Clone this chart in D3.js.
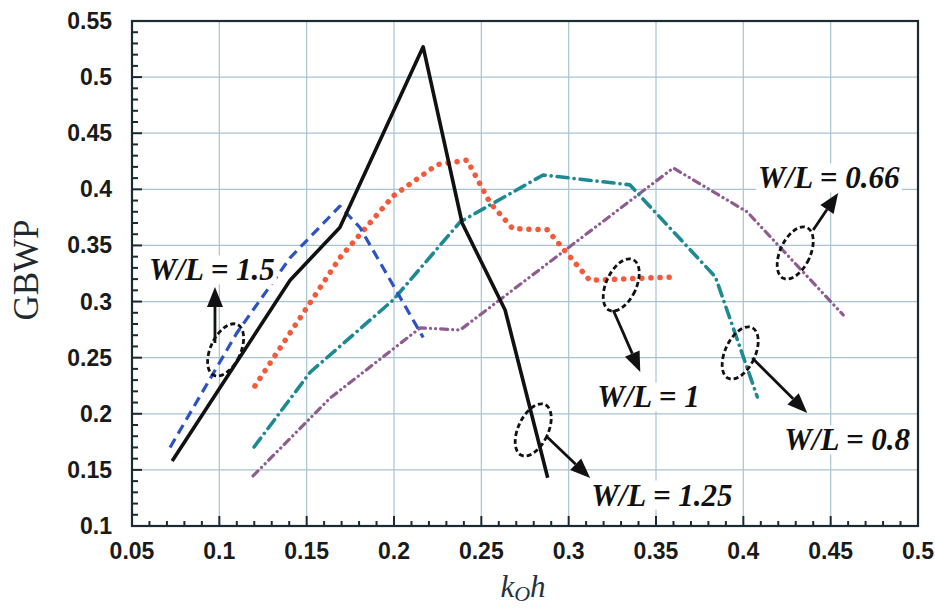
<!DOCTYPE html>
<html><head><meta charset="utf-8">
<script src="https://cdn.jsdelivr.net/npm/d3@7"></script>
<style>body{margin:0;background:#fff}svg{display:block}</style>
</head><body>
<script>
// ---- data ----
const xTicks = [0.05,0.1,0.15,0.2,0.25,0.3,0.35,0.4,0.45,0.5];
const xTickLabels = ["0.05","0.1","0.15","0.2","0.25","0.3","0.35","0.4","0.45","0.5"];
const yTicks = [0.1,0.15,0.2,0.25,0.3,0.35,0.4,0.45,0.5,0.55];
const yTickLabels = ["0.1","0.15","0.2","0.25","0.3","0.35","0.4","0.45","0.5","0.55"];

const xWL125 = [0.073, 0.1405, 0.169, 0.2167, 0.239, 0.2636, 0.288];
const yWL125 = [0.158, 0.319, 0.366, 0.527, 0.370, 0.2925, 0.143];
const xWL15 = [0.0718, 0.110, 0.1405, 0.169, 0.1805, 0.2167];
const yWL15 = [0.170, 0.272, 0.339, 0.385, 0.366, 0.268];
const xWL1 = [0.1204, 0.169, 0.1995, 0.2247, 0.2419, 0.255, 0.268, 0.2877, 0.312, 0.362];
const yWL1 = [0.2248, 0.339, 0.394, 0.422, 0.426, 0.388, 0.365, 0.364, 0.319, 0.322];
const xWL08 = [0.1199, 0.152, 0.1995, 0.2379, 0.2854, 0.335, 0.384, 0.408];
const yWL08 = [0.1704, 0.237, 0.3014, 0.371, 0.4128, 0.404, 0.322, 0.215];
const xWL066 = [0.1193, 0.1634, 0.215, 0.2379, 0.3599, 0.4022, 0.4572];
const yWL066 = [0.1446, 0.214, 0.2765, 0.2747, 0.419, 0.3799, 0.288];

const labelTexts = ["W/L = 1.5","W/L = 1","W/L = 0.8","W/L = 0.66","W/L = 1.25"];
const labelX = [0.0597, 0.3163, 0.4234, 0.4084, 0.3129];
const labelY = [0.3282, 0.215, 0.1767, 0.4102, 0.1276];
const arrowFromX = [0.0975, 0.3255, 0.4051, 0.44, 0.2877];
const arrowFromY = [0.2631, 0.2925, 0.2497, 0.3638, 0.1793];
const arrowToX = [0.0975, 0.341, 0.4366, 0.4543, 0.3123];
const arrowToY = [0.313, 0.2373, 0.2007, 0.3968, 0.1428];
const ellipseX = [0.1036, 0.3301, 0.3982, 0.4297, 0.2797];
const ellipseY = [0.2569, 0.3148, 0.2542, 0.3433, 0.1856];

// ---- layout ----
const W = 935, H = 611;
const L = 132, R = 918, T = 21, B = 526;
const svg = d3.select("body").append("svg").attr("width", W).attr("height", H);
const x = d3.scaleLinear().domain([0.05, 0.5]).range([L, R]);
const y = d3.scaleLinear().domain([0.1, 0.55]).range([B, T]);

// grid
const grid = svg.append("g");
grid.selectAll(".gx").data(xTicks.slice(1, -1)).join("line")
  .attr("x1", d => x(d)).attr("x2", d => x(d)).attr("y1", T).attr("y2", B)
  .attr("stroke", "#a8c3d3").attr("stroke-width", 1.2);
grid.selectAll(".gy").data(yTicks.slice(1, -1)).join("line")
  .attr("y1", d => y(d)).attr("y2", d => y(d)).attr("x1", L).attr("x2", R)
  .attr("stroke", "#a8c3d3").attr("stroke-width", 1.2);

// series
const series = [
  {xs: xWL066, ys: yWL066, color: "#8c5d8e", width: 3.2, dash: "7 5 0.1 5 0.1 5", cap: "round"},
  {xs: xWL08, ys: yWL08, color: "#1c8993", width: 3.6, dash: "11 6 0.1 6", cap: "round"},
  {xs: xWL1, ys: yWL1, color: "#f35a3a", width: 5.5, dash: "0.1 9", cap: "round"},
  {xs: xWL15, ys: yWL15, color: "#2c52c6", width: 3.2, dash: "10 6", cap: "butt"},
  {xs: xWL125, ys: yWL125, color: "#111111", width: 3.6, dash: null, cap: "butt"}
];
const line = d3.line().x(d => x(d[0])).y(d => y(d[1]));
series.forEach(s => {
  const pts = s.xs.map((v, i) => [v, s.ys[i]]);
  svg.append("path").attr("d", line(pts)).attr("fill", "none")
    .attr("stroke", s.color).attr("stroke-width", s.width)
    .attr("stroke-dasharray", s.dash).attr("stroke-linecap", s.cap)
    .attr("stroke-linejoin", "round");
});

// annotations
const ann = svg.append("g");
ellipseX.forEach((ex, i) => {
  ann.append("ellipse")
    .attr("transform", `translate(${x(ex)},${y(ellipseY[i])}) rotate(25)`)
    .attr("rx", 15).attr("ry", 28)
    .attr("fill", "none").attr("stroke", "#111").attr("stroke-width", 2.8)
    .attr("stroke-dasharray", "5 3");
});
arrowFromX.forEach((fx, i) => {
  const x1 = x(fx), y1 = y(arrowFromY[i]), x2 = x(arrowToX[i]), y2 = y(arrowToY[i]);
  const ang = Math.atan2(y2 - y1, x2 - x1);
  const hl = 20, hw = 8;
  const bx = x2 - hl * Math.cos(ang), by = y2 - hl * Math.sin(ang);
  ann.append("line").attr("x1", x1).attr("y1", y1).attr("x2", bx).attr("y2", by)
    .attr("stroke", "#111").attr("stroke-width", 2.8);
  const p = [[x2, y2],
    [bx + hw * Math.sin(ang), by - hw * Math.cos(ang)],
    [bx - hw * Math.sin(ang), by + hw * Math.cos(ang)]];
  ann.append("path").attr("d", "M" + p.map(q => q.join(",")).join("L") + "Z").attr("fill", "#111");
});
labelTexts.forEach((t, i) => {
  const g = ann.append("g");
  const txt = g.append("text").attr("x", x(labelX[i])).attr("y", y(labelY[i]))
    .attr("dominant-baseline", "central")
    .attr("font-family", "'Liberation Serif','Times New Roman',serif")
    .attr("font-weight", "bold").attr("font-style", "italic")
    .attr("font-size", 31).attr("fill", "#111").text(t);
  const bb = txt.node().getBBox();
  g.insert("rect", "text").attr("x", bb.x - 2).attr("y", bb.y + 3)
    .attr("width", bb.width + 4).attr("height", bb.height - 6).attr("fill", "#fff");
});

// frame and ticks
const axG = svg.append("g");
axG.append("rect").attr("x", L).attr("y", T).attr("width", R - L).attr("height", B - T)
  .attr("fill", "none").attr("stroke", "#1b2a33").attr("stroke-width", 2.2);
const xMinor = d3.range(0.05, 0.5001, 0.01);
const yMinor = d3.range(0.1, 0.5501, 0.01);
axG.selectAll(".xt").data(xMinor).join("line")
  .attr("x1", d => x(d)).attr("x2", d => x(d)).attr("y1", B)
  .attr("y2", (d, i) => B - (i % 5 === 0 ? 10 : 5))
  .attr("stroke", "#1b2a33").attr("stroke-width", 2);
axG.selectAll(".yt").data(yMinor).join("line")
  .attr("y1", d => y(d)).attr("y2", d => y(d)).attr("x1", L)
  .attr("x2", (d, i) => L + (i % 5 === 0 ? 10 : 6))
  .attr("stroke", "#1b2a33").attr("stroke-width", 2);

// tick labels
const tickFont = "'Liberation Sans',Arial,sans-serif";
axG.selectAll(".xl").data(xTicks).join("text")
  .attr("x", d => x(d)).attr("y", 551).attr("text-anchor", "middle")
  .attr("dominant-baseline", "central").attr("font-family", tickFont)
  .attr("font-weight", "bold").attr("font-size", 23).attr("fill", "#1a1a1a")
  .text((d, i) => xTickLabels[i]);
axG.selectAll(".yl").data(yTicks).join("text")
  .attr("x", 112).attr("y", d => y(d)).attr("text-anchor", "end")
  .attr("dominant-baseline", "central").attr("font-family", tickFont)
  .attr("font-weight", "bold").attr("font-size", 23).attr("fill", "#1a1a1a")
  .text((d, i) => yTickLabels[i]);

// axis titles
const xt = svg.append("text").attr("x", 523).attr("y", 597).attr("text-anchor", "middle")
  .attr("font-family", "'Liberation Serif','Times New Roman',serif")
  .attr("font-style", "italic").attr("font-size", 31).attr("fill", "#1e3440");
xt.append("tspan").text("k");
xt.append("tspan").attr("font-size", 22).attr("dy", 4).text("O");
xt.append("tspan").attr("dy", -4).text("h");
svg.append("text").attr("transform", "translate(38,270) rotate(-90)")
  .attr("text-anchor", "middle")
  .attr("font-family", "'Liberation Serif','Times New Roman',serif")
  .attr("font-size", 35).attr("fill", "#1e2a30").text("GBWP");
</script>
</body></html>
